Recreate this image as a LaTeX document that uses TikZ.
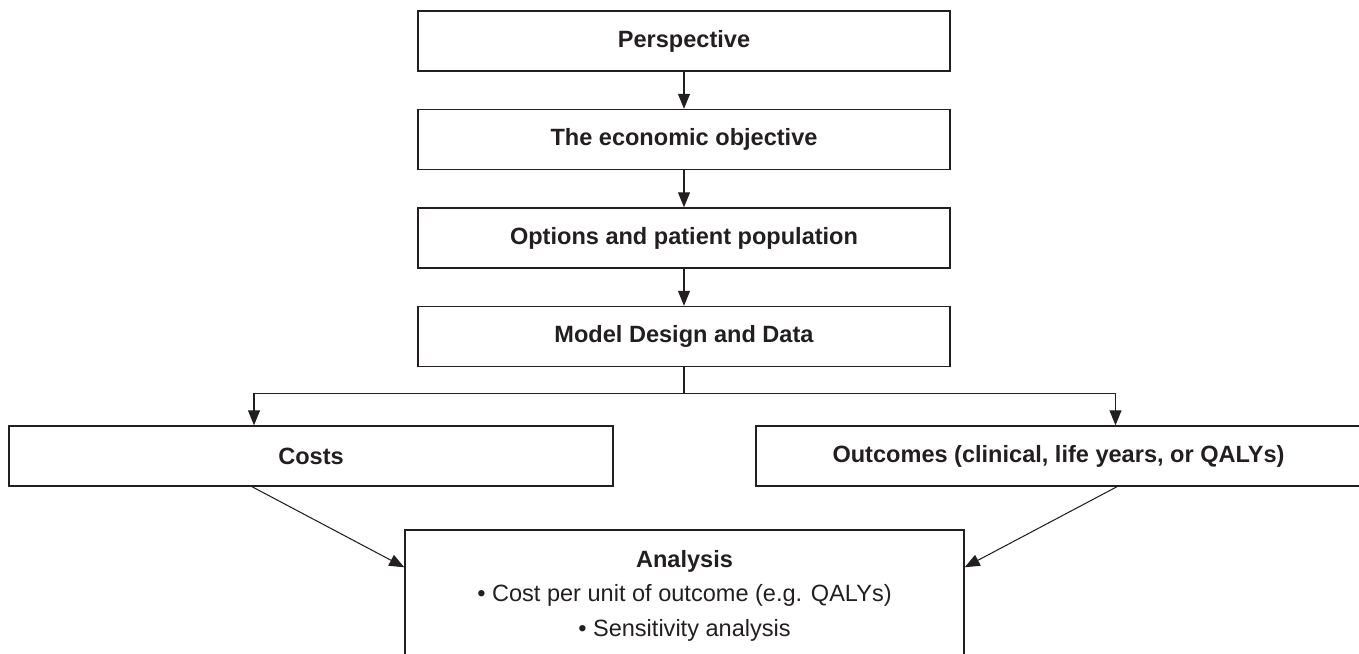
\documentclass[tikz,border=0pt]{standalone}
\usepackage{fontspec}
\setmainfont{Liberation Sans}
\usetikzlibrary{arrows.meta,positioning}
\definecolor{ink}{HTML}{231F20}
\begin{document}
\begin{tikzpicture}
        \tikzstyle{box} = [rectangle, minimum width=10.64cm, minimum height=1.2cm, text centered, draw=ink, text=ink, line width=0.8pt, node distance=1.97cm, font=\fontsize{13.4}{19.6}\selectfont\bfseries]
        \tikzstyle{arrow} = [draw=ink, line width=0.6pt, -{Triangle[length=0.3cm,width=0.24cm]}]

                \useasboundingbox (0,0) rectangle (27.18,-13.08);

                \node (persp) [box] at (13.68,-0.82) {Perspective};
                \node (objective) [box, below of=persp] {The economic objective};
                \node (options) [box, below of=objective] {Options and patient population};
                \node (model) [box, below of=options] {Model Design and Data};
                \node (costs) [box, minimum width=12.08cm] at (6.22,-9.12) {Costs};
                \node (outcomes) [box, minimum width=12.1cm] at (21.17,-9.12) {Outcomes (clinical, life years, or QALYs)};
                \node (analysis) [box, minimum width=11.18cm, minimum height=2.62cm, align=center] at (13.69,-11.91) {Analysis\\ \mdseries\textbullet\ Cost per unit of outcome (e.g. QALYs)\\ \mdseries\textbullet\ Sensitivity analysis};

                \draw[arrow] (persp) -- (objective);
                \draw[arrow] (objective) -- (options);
                \draw[arrow] (options) -- (model);
                \draw[draw=ink, line width=0.6pt] (model.south) -- ++(0,-0.52) coordinate (split);
                \draw[arrow] (split) -| ([xshift=-1.14cm]costs.north);
                \draw[arrow] (split) -| ([xshift=1.14cm]outcomes.north);
                \draw[arrow] ([xshift=-1.18cm]costs.south) -- ([yshift=-0.76cm]analysis.north west);
                \draw[arrow] ([xshift=1.17cm]outcomes.south) -- ([yshift=-0.76cm]analysis.north east);
    \end{tikzpicture}
\end{document}
